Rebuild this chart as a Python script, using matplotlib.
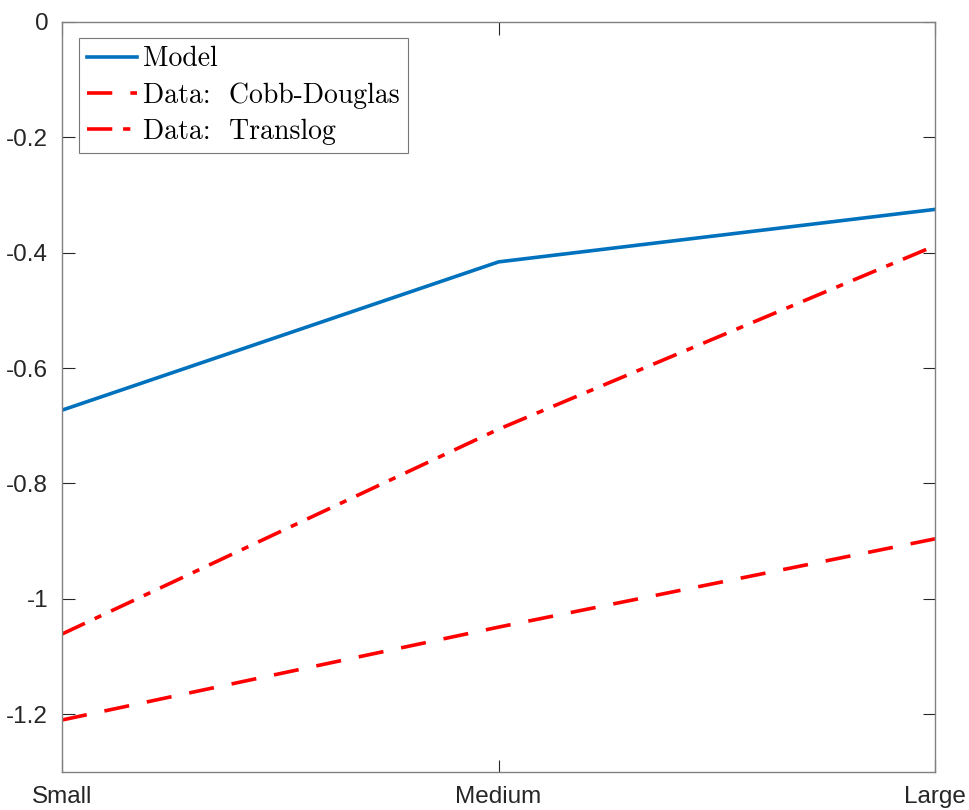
import matplotlib
matplotlib.use("Agg")
import matplotlib.pyplot as plt
from matplotlib import font_manager

sizes = ["Small", "Medium", "Large"]
model = [-0.673, -0.416, -0.325]
cobb_douglas = [-1.210, -1.049, -0.896]
translog = [-1.061, -0.706, -0.388]
yticks = [0, -0.2, -0.4, -0.6, -0.8, -1, -1.2]
ytick_labels = ["0", "-0.2", "-0.4", "-0.6", "-0.8", "-1", "-1.2"]

names = {f.name for f in font_manager.fontManager.ttflist}
tick_font = "Liberation Sans Narrow" if "Liberation Sans Narrow" in names else "Liberation Sans"

fig = plt.figure(figsize=(9.69, 8.10), dpi=100)
ax = fig.add_axes([0.064, 0.047, 0.901, 0.926])

x = range(len(sizes))
ax.plot(x, model, color="#0072BD", lw=2.6, label="Model")
ax.plot(x, cobb_douglas, color="#FF0000", lw=2.6, ls=(0, (7, 5)), label="Data:  Cobb-Douglas")
ax.plot(x, translog, color="#FF0000", lw=2.6, ls=(0, (7, 3, 2, 3)), label="Data:  Translog")

ax.set_xlim(0, 2)
ax.set_ylim(-1.3, 0)
ax.set_xticks(list(x))
ax.set_xticklabels(sizes, fontfamily=tick_font, fontsize=17.5)
ax.set_yticks(yticks)
ax.set_yticklabels(ytick_labels, fontfamily=tick_font, fontsize=17.5)

edge = "#262626"
for s in ax.spines.values():
    s.set_color("#808080")
    s.set_linewidth(1.0)
ax.tick_params(direction="in", length=9, width=0.8, color=edge, labelcolor=edge,
               top=True, right=True, pad=10)

leg = ax.legend(loc="upper left", prop={"family": "cmr10", "size": 20},
                frameon=True, fancybox=False, edgecolor="#555555",
                handlelength=1.8, handletextpad=0.2, borderpad=0.3,
                labelspacing=0.36, borderaxespad=0, bbox_to_anchor=(0.0195, 0.979))
leg.get_frame().set_linewidth(0.8)

fig.savefig("out.png", dpi=100)
